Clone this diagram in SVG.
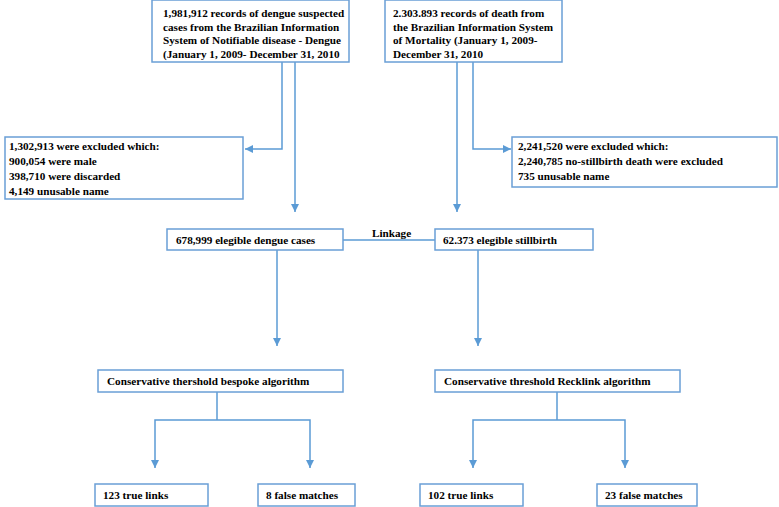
<svg xmlns="http://www.w3.org/2000/svg" width="779" height="507" viewBox="0 0 779 507">
<defs>
<marker id="ah" viewBox="0 0 10 10" refX="10" refY="5" markerWidth="8" markerHeight="8" markerUnits="userSpaceOnUse" orient="auto">
<path d="M0,0 L10,5 L0,10 z" fill="#5b9bd5"/>
</marker>
<style>
.box{fill:#fff;stroke:#6a9fd6;stroke-width:1.5}
.t{font-family:"Liberation Serif","Times New Roman",serif;font-weight:bold;font-size:11.2px;fill:#000}
.c{fill:none;stroke:#5b9bd5;stroke-width:1.5}
</style>
</defs>
<rect width="779" height="507" fill="#fff"/>
<g id="connectors">
<polyline class="c" points="282,62 282,149 245,149" marker-end="url(#ah)"/>
<line class="c" x1="295" y1="62" x2="295" y2="212" marker-end="url(#ah)"/>
<polyline class="c" points="473,62 473,149 511,149" marker-end="url(#ah)"/>
<line class="c" x1="457" y1="62" x2="457" y2="212" marker-end="url(#ah)"/>
<line class="c" x1="343" y1="240" x2="435" y2="240"/>
<line class="c" x1="277" y1="250" x2="277" y2="346" marker-end="url(#ah)"/>
<line class="c" x1="478" y1="250" x2="478" y2="346" marker-end="url(#ah)"/>
<line class="c" x1="217" y1="392" x2="217" y2="420"/>
<polyline class="c" points="217,420 155,420 155,468" marker-end="url(#ah)"/>
<polyline class="c" points="217,420 310,420 310,468" marker-end="url(#ah)"/>
<line class="c" x1="557" y1="392" x2="557" y2="420"/>
<polyline class="c" points="557,420 473,420 473,468" marker-end="url(#ah)"/>
<polyline class="c" points="557,420 625,420 625,468" marker-end="url(#ah)"/>
</g>
<g id="n1"><rect class="box" x="152" y="0" width="197" height="62"/>
<text class="t" x="163" y="17">1,981,912 records of dengue suspected</text>
<text class="t" x="163" y="30.5">cases from the Brazilian Information</text>
<text class="t" x="163" y="44">System of Notifiable disease - Dengue</text>
<text class="t" x="163" y="57.5">(January 1, 2009- December 31, 2010</text></g>
<g id="n2"><rect class="box" x="385" y="0" width="177" height="62"/>
<text class="t" x="393" y="17">2.303.893 records of death from</text>
<text class="t" x="393" y="30.5">the Brazilian Information System</text>
<text class="t" x="393" y="44">of Mortality (January 1, 2009-</text>
<text class="t" x="393" y="57.5">December 31, 2010</text></g>
<g id="n3"><rect class="box" x="5" y="137" width="238" height="62"/>
<text class="t" x="9" y="150">1,302,913 were excluded which:</text>
<text class="t" x="9" y="165">900,054 were male</text>
<text class="t" x="9" y="180">398,710 were discarded</text>
<text class="t" x="9" y="195">4,149 unusable name</text></g>
<g id="n4"><rect class="box" x="512" y="137" width="265" height="50"/>
<text class="t" x="518" y="150">2,241,520 were excluded which:</text>
<text class="t" x="518" y="165">2,240,785 no-stillbirth death were excluded</text>
<text class="t" x="518" y="180">735 unusable name</text></g>
<g id="n5"><rect class="box" x="167" y="229" width="176" height="21"/>
<text class="t" x="176" y="244">678,999 elegible dengue cases</text></g>
<g id="n6"><rect class="box" x="435" y="229" width="158" height="21"/>
<text class="t" x="443" y="244">62.373 elegible stillbirth</text></g>
<text class="t" x="372" y="237">Linkage</text>
<g id="n7"><rect class="box" x="98" y="370" width="245" height="22"/>
<text class="t" x="107" y="385">Conservative thershold bespoke algorithm</text></g>
<g id="n8"><rect class="box" x="435" y="370" width="245" height="22"/>
<text class="t" x="444" y="385">Conservative threshold Recklink algorithm</text></g>
<g id="n9"><rect class="box" x="95" y="484" width="113" height="22"/>
<text class="t" x="103" y="499">123 true links</text></g>
<g id="n10"><rect class="box" x="258" y="484" width="97" height="22"/>
<text class="t" x="266" y="499">8 false matches</text></g>
<g id="n11"><rect class="box" x="420" y="484" width="103" height="22"/>
<text class="t" x="428" y="499">102 true links</text></g>
<g id="n12"><rect class="box" x="597" y="484" width="100" height="22"/>
<text class="t" x="605" y="499">23 false matches</text></g>
</svg>
